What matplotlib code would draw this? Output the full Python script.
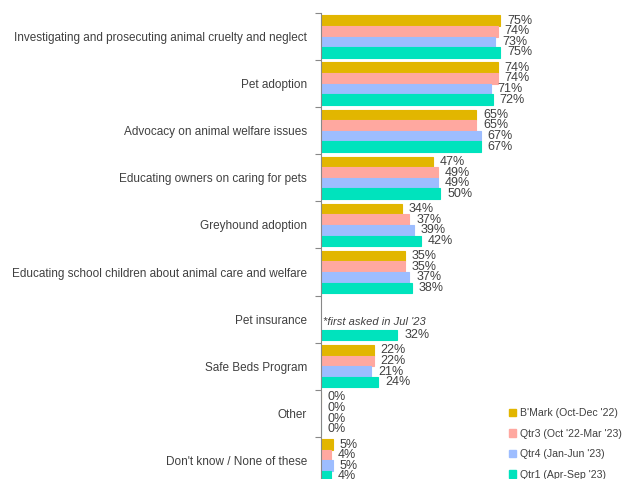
import numpy as np
import matplotlib
matplotlib.use("Agg")
import matplotlib.pyplot as plt
from matplotlib.patches import Patch

plt.rcParams["font.family"] = ["Liberation Sans", "DejaVu Sans"]

categories = [
    "Investigating and prosecuting animal cruelty and neglect",
    "Pet adoption",
    "Advocacy on animal welfare issues",
    "Educating owners on caring for pets",
    "Greyhound adoption",
    "Educating school children about animal care and welfare",
    "Pet insurance",
    "Safe Beds Program",
    "Other",
    "Don't know / None of these",
]
series_names = [
    "B'Mark (Oct-Dec '22)",
    "Qtr3 (Oct '22-Mar '23)",
    "Qtr4 (Jan-Jun '23)",
    "Qtr1 (Apr-Sep '23)",
]
bmark = [75, 74, 65, 47, 34, 35, np.nan, 22, 0, 5]
qtr3 = [74, 74, 65, 49, 37, 35, np.nan, 22, 0, 4]
qtr4 = [73, 71, 67, 49, 39, 37, np.nan, 21, 0, 5]
qtr1 = [75, 72, 67, 50, 42, 38, 32, 24, 0, 4]
colors = ["#E2B600", "#FFA8A0", "#9DBDFF", "#00E3BD"]
note = "*first asked in Jul '23"

series = [bmark, qtr3, qtr4, qtr1]
W, H = 622, 479
fig = plt.figure(figsize=(W / 100, H / 100), dpi=100)
top_px, cat_px, left_px = 13, 47.1, 321
ax_h = cat_px * len(categories)
ax = fig.add_axes([left_px / W, 1 - (top_px + ax_h) / H, (W - left_px) / W, ax_h / H])

n = len(categories)
y = np.arange(n)
bh = 0.225
offsets = (np.arange(4) - 1.5) * bh
text_color = "#404040"

for i, (vals, c) in enumerate(zip(series, colors)):
    vals = np.array(vals, dtype=float)
    ypos = y + offsets[i]
    ax.barh(ypos, vals, height=bh, color=c, edgecolor=c, linewidth=0.8)
    for yy, v in zip(ypos, vals):
        if np.isnan(v):
            continue
        ax.text(v + 2.8, yy, f"{v:.0f}%", va="center", ha="left",
                fontsize=9, color=text_color)

# note for pet insurance
pi = categories.index("Pet insurance")
ax.text(0.8, pi + 0.05, note, fontsize=8, style="italic",
        color=text_color, va="center", ha="left")

ax.set_ylim(n - 0.5, -0.5)
ax.set_xlim(0, 126)
ax.set_yticks(y)
ax.set_yticklabels(categories, fontsize=8.45, color=text_color,
                   va="center_baseline")
ax.set_yticks(np.arange(n + 1) - 0.5, minor=True)
ax.tick_params(axis="y", which="major", length=0, pad=10)
ax.tick_params(axis="y", which="minor", length=4, color="#888888", width=0.8)
ax.set_xticks([])
for s in ["top", "right", "bottom"]:
    ax.spines[s].set_visible(False)
ax.spines["left"].set_color("#888888")
ax.spines["left"].set_linewidth(0.8)

handles = [Patch(facecolor=c, edgecolor=c) for c in colors]
fig.legend(handles, series_names, loc="upper left",
           bbox_to_anchor=(509 / W, 1 - 408 / H), frameon=False, fontsize=7.6,
           handlelength=0.7, handleheight=0.7, handletextpad=0.3,
           labelspacing=1.0, labelcolor=text_color, borderaxespad=0,
           borderpad=0)

fig.savefig("out.png", dpi=100)
